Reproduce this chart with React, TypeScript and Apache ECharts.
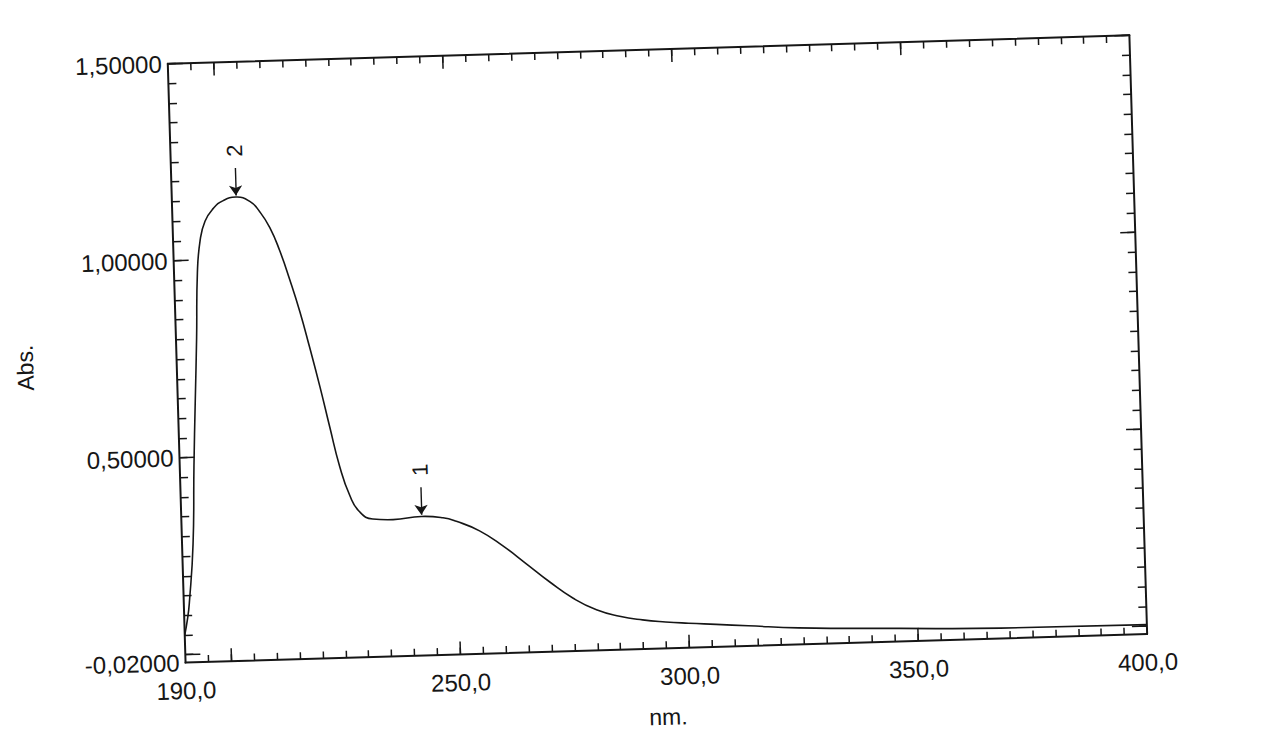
import React, { useEffect, useRef } from "react";
import * as echarts from "echarts";

// UV absorption spectrum: wavelength (nm) vs absorbance
const wavelengths = [
  190.0, 190.7, 191.2, 192.4, 193.1, 193.8, 194.5, 195.1, 195.9, 197.1, 199.0,
  201.2, 204.0, 207.0, 209.1, 211.2, 213.2, 215.2, 217.2, 219.1, 221.1, 223.0,
  224.9, 226.9, 228.9, 231.8, 236.2, 242.4, 247.1, 250.0, 255.0, 260.0, 265.0,
  270.0, 275.0, 280.0, 285.0, 290.0, 295.0, 300.0, 306.0, 313.0, 324.0, 346.0,
  368.0, 400.0,
];
const absorbance = [
  0.05, 0.09, 0.13, 0.28, 0.477, 0.641, 0.8, 0.967, 1.049, 1.098, 1.13,
  1.149, 1.157, 1.145, 1.118, 1.077, 1.018, 0.944, 0.862, 0.771, 0.67, 0.566,
  0.466, 0.392, 0.35, 0.33, 0.327, 0.333, 0.328, 0.318, 0.292, 0.252, 0.205,
  0.157, 0.114, 0.083, 0.065, 0.054, 0.047, 0.042, 0.037, 0.031, 0.022, 0.013,
  0.006, 0.004,
];

// Marked maxima
const peakNames = ["1", "2"];
const peakNm = [242.4, 204.0];
const peakAbs = [0.333, 1.157];

// Axis ranges, labels and ticks
const xMin = 190;
const xMax = 400;
const yMin = -0.02;
const yMax = 1.5;
const xLabelValues = [190, 250, 300, 350, 400];
const xMajorTicks = [200, 250, 300, 350];
const yLabelValues = [-0.02, 0.5, 1.0, 1.5];
const yMajorTicks = [0, 0.5, 1.0, 1.5];

const xMinorTicks: number[] = [];
for (let v = 195; v < xMax; v += 5) xMinorTicks.push(v);
const yMinorTicks: number[] = [];
for (let k = 0; k <= 30; k++) yMinorTicks.push(Math.round(k * 5) / 100);

const INK = "#161616";
const FONT = "'Liberation Sans', Arial, sans-serif";

function xAxisDef(position: "bottom" | "top", ticks: number[], len: number, main: boolean) {
  return {
    type: "value",
    position,
    min: xMin,
    max: xMax,
    axisLine: { show: main, onZero: false, lineStyle: { color: INK, width: 2 } },
    axisTick: {
      show: true,
      inside: true,
      length: len,
      customValues: ticks,
      lineStyle: { color: INK, width: 1.5 },
    },
    axisLabel:
      main && position === "bottom"
        ? {
            show: true,
            customValues: xLabelValues,
            formatter: (v: number) => v.toFixed(1).replace(".", ","),
            margin: 16,
            fontSize: 24,
            fontFamily: FONT,
            color: INK,
          }
        : { show: false },
    splitLine: { show: false },
    ...(main && position === "bottom"
      ? {
          name: "nm.",
          nameLocation: "middle",
          nameGap: 57,
          nameTextStyle: { fontSize: 23, fontFamily: FONT, color: INK },
        }
      : {}),
  };
}

function yAxisDef(position: "left" | "right", ticks: number[], len: number, main: boolean) {
  return {
    type: "value",
    position,
    min: yMin,
    max: yMax,
    axisLine: { show: main, onZero: false, lineStyle: { color: INK, width: 2 } },
    axisTick: {
      show: true,
      inside: true,
      length: len,
      customValues: ticks,
      lineStyle: { color: INK, width: 1.5 },
    },
    axisLabel:
      main && position === "left"
        ? {
            show: true,
            customValues: yLabelValues,
            formatter: (v: number) => v.toFixed(5).replace(".", ","),
            margin: 6,
            fontSize: 24,
            fontFamily: FONT,
            color: INK,
          }
        : { show: false },
    splitLine: { show: false },
    ...(main && position === "left"
      ? {
          name: "Abs.",
          nameLocation: "middle",
          nameGap: 140,
          nameTextStyle: { fontSize: 23, fontFamily: FONT, color: INK },
        }
      : {}),
  };
}

export default function App() {
  const ref = useRef<HTMLDivElement>(null);

  useEffect(() => {
    if (!ref.current) return;
    const chart = echarts.init(ref.current, null, { renderer: "svg" });

    const seriesData = wavelengths.map((w, i) => [w, absorbance[i]]);

    const arrows = peakNm.map((w, i) => [
      { coord: [w, peakAbs[i] + 0.074] },
      { coord: [w, peakAbs[i] + 0.004] },
    ]);

    const peakTexts = peakNm.map((w, i) => ({
      coord: [w, peakAbs[i] + 0.118],
      value: peakNames[i],
      label: { formatter: peakNames[i] },
    }));

    chart.setOption({
      animation: false,
      backgroundColor: "transparent",
      grid: { left: 177, top: 50, width: 962, height: 619, containLabel: false },
      xAxis: [
        xAxisDef("bottom", xMinorTicks, 7, true),
        xAxisDef("bottom", xMajorTicks, 13, false),
        xAxisDef("top", xMinorTicks, 7, true),
        xAxisDef("top", xMajorTicks, 13, false),
      ],
      yAxis: [
        yAxisDef("left", yMinorTicks, 8, true),
        yAxisDef("left", yMajorTicks, 15, false),
        yAxisDef("right", yMinorTicks, 8, true),
        yAxisDef("right", yMajorTicks, 15, false),
      ],
      series: [
        {
          type: "line",
          xAxisIndex: 0,
          yAxisIndex: 0,
          data: seriesData,
          showSymbol: false,
          smooth: 0.5,
          lineStyle: { color: INK, width: 1.6 },
          silent: true,
          markLine: {
            silent: true,
            symbol: ["none", "arrow"],
            symbolSize: 10,
            label: { show: false },
            lineStyle: { color: INK, width: 1.4, type: "solid" },
            emphasis: { disabled: true },
            data: arrows,
          },
          markPoint: {
            silent: true,
            symbol: "rect",
            symbolSize: 1,
            itemStyle: { color: "rgba(0,0,0,0)" },
            label: {
              show: true,
              position: "inside",
              rotate: 90,
              fontSize: 22,
              fontFamily: FONT,
              color: INK,
            },
            data: peakTexts,
          },
        },
      ],
    });

    return () => chart.dispose();
  }, []);

  return (
    <div
      style={{
        position: "absolute",
        left: 0,
        top: 0,
        width: 1279,
        height: 734,
        overflow: "hidden",
        background: "#ffffff",
      }}
    >
      <div
        ref={ref}
        style={{
          position: "absolute",
          left: 0,
          top: 0,
          width: 1279,
          height: 734,
          transform: "rotate(-1.7deg)",
          transformOrigin: "639.5px 367px",
        }}
      />
    </div>
  );
}
